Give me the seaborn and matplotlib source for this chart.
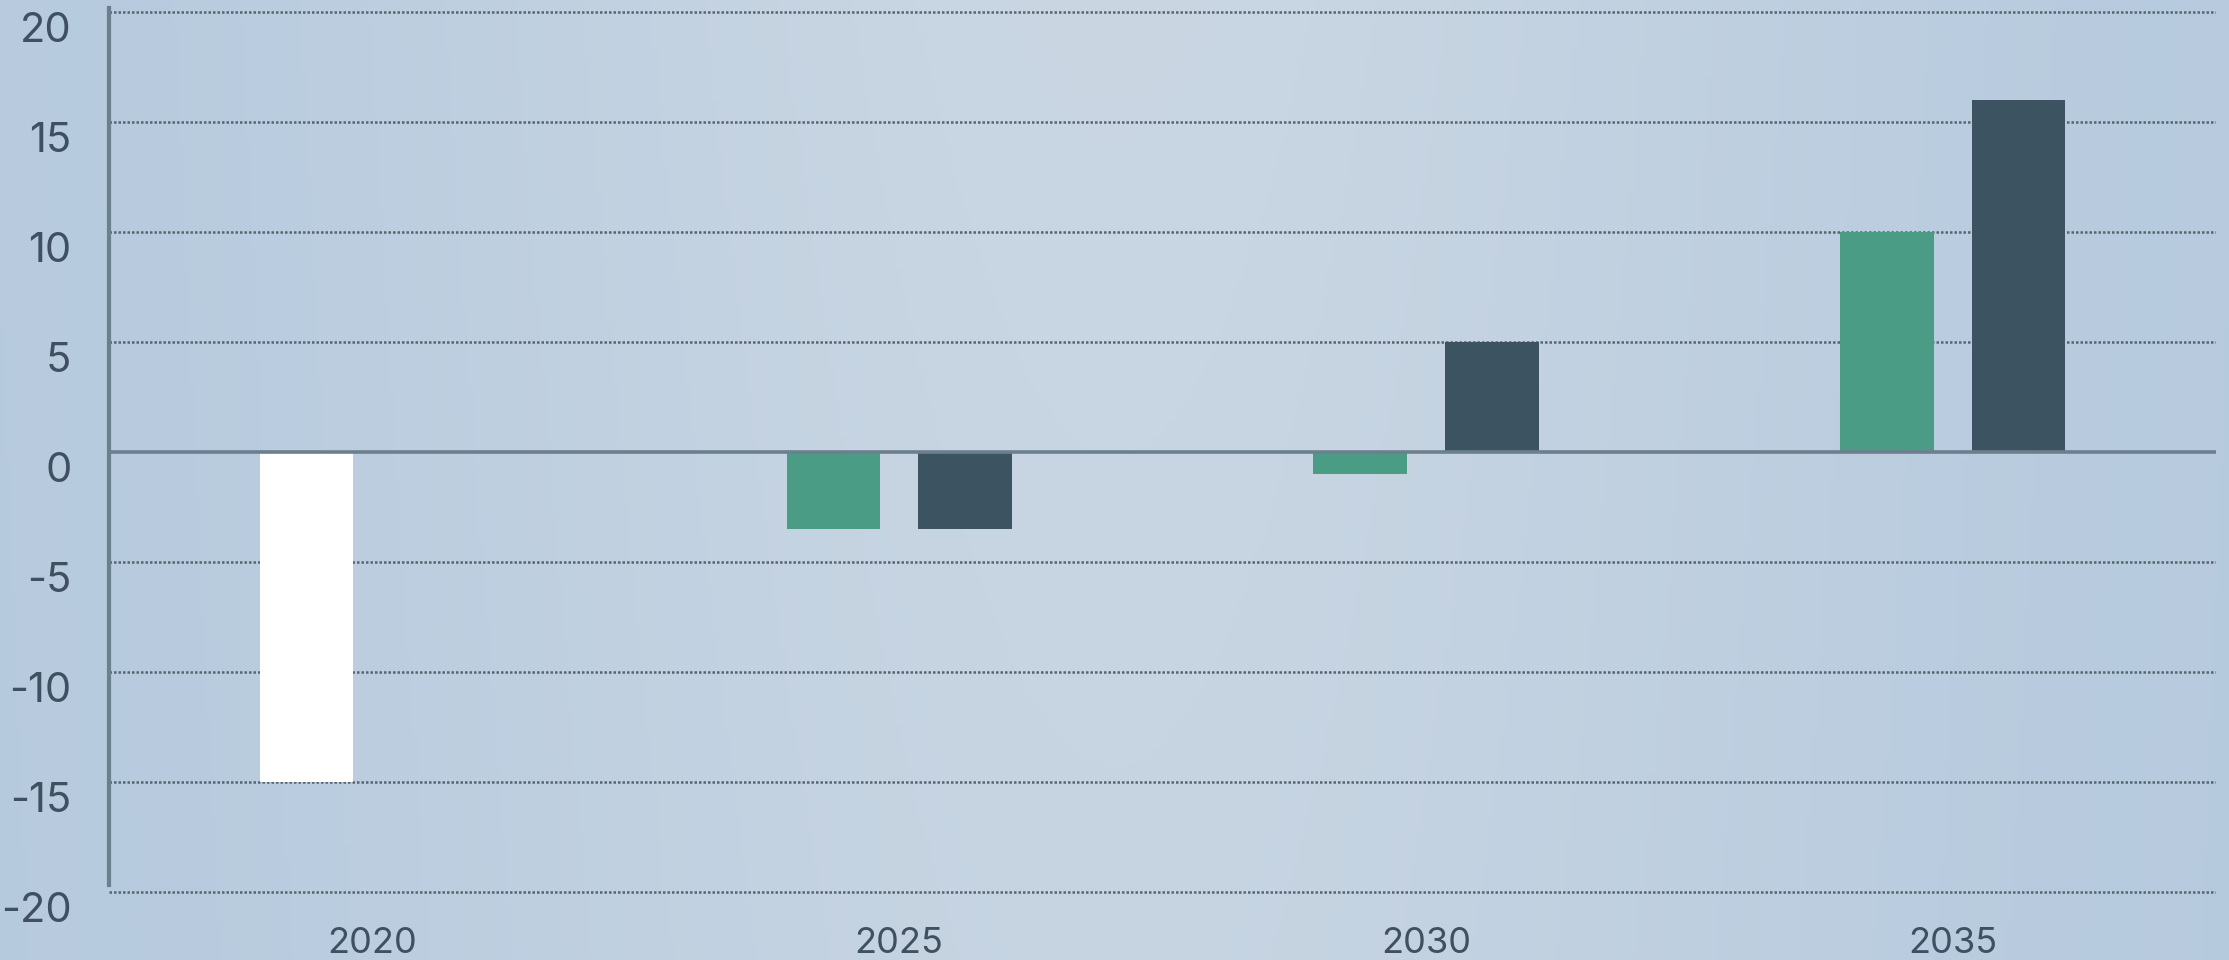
import numpy as np
import pandas as pd
import matplotlib
matplotlib.use("Agg")
import matplotlib.pyplot as plt
import seaborn as sns

# Data
years = ["2020", "2025", "2030", "2035"]
series_a = [-15, -3.5, -1, 10]
series_b = [np.nan, -3.5, 5, 16]
y_ticks = [-20, -15, -10, -5, 0, 5, 10, 15, 20]

color_a = "#4a9c84"
color_b = "#3c5361"
highlight = "#ffffff"
text_color = "#3f5160"
axis_color = "#6c7f8e"
grid_color = "#56656f"

df = pd.DataFrame({
    "year": years * 2,
    "value": series_a + series_b,
    "series": ["a"] * len(years) + ["b"] * len(years),
})

sns.set_theme(style="white")
plt.rcParams["font.family"] = ["Inter", "DejaVu Sans"]

fig = plt.figure(figsize=(22.29, 9.6), dpi=100)

# Soft blue-grey backdrop
bg = fig.add_axes([0, 0, 1, 1], zorder=-10)
bg.axis("off")
nx, ny = 400, 200
xs = np.linspace(0, 1, nx)
ys = np.linspace(0, 1, ny)
X, Y = np.meshgrid(xs, ys)
c_edge = np.array([0.71, 0.79, 0.87])
c_mid = np.array([0.79, 0.84, 0.89])
w = np.exp(-((X - 0.5) / 0.33) ** 2)
w = w * (0.85 + 0.15 * Y)
img = c_edge[None, None, :] * (1 - w[..., None]) + c_mid[None, None, :] * w[..., None]
bg.imshow(img, extent=[0, 1, 0, 1], aspect="auto", origin="lower")
bg.set_xlim(0, 1)
bg.set_ylim(0, 1)

ax = fig.add_axes([0.0489, 0.06625, 0.9453, 0.9258])
ax.patch.set_alpha(0)

sns.barplot(
    data=df, x="year", y="value", hue="series",
    palette={"a": color_a, "b": color_b}, saturation=1,
    width=0.5, gap=0.29, order=years, hue_order=["a", "b"],
    errorbar=None, legend=False, ax=ax, zorder=2, linewidth=0,
)

# The 2020 bar of the first series is shown in white
ax.containers[0][0].set_facecolor(highlight)

ax.set_xlim(-0.5, 3.5)
ax.set_ylim(-20.2, 20.2)
ax.set_yticks(y_ticks)
ax.set_yticklabels([str(t) for t in y_ticks])
ax.set_xlabel("")
ax.set_ylabel("")

# Dotted gridlines, solid zero line
for t in y_ticks:
    if t != 0:
        ax.axhline(t, color=grid_color, lw=1.8, ls=(0, (1, 0.8)), zorder=1)
ax.axhline(0, color=axis_color, lw=2.6, zorder=3)

for side in ["top", "right", "bottom"]:
    ax.spines[side].set_visible(False)
ax.spines["left"].set_color(axis_color)
ax.spines["left"].set_linewidth(3)
ax.spines["left"].set_bounds(-19.7, 20.2)

ax.tick_params(axis="both", length=0)
ax.tick_params(axis="y", labelsize=30, colors=text_color, pad=27)
ax.tick_params(axis="x", labelsize=26, colors=text_color, pad=22)
for lbl in ax.get_yticklabels():
    lbl.set_verticalalignment("top")

fig.savefig("out.png", dpi=100)
